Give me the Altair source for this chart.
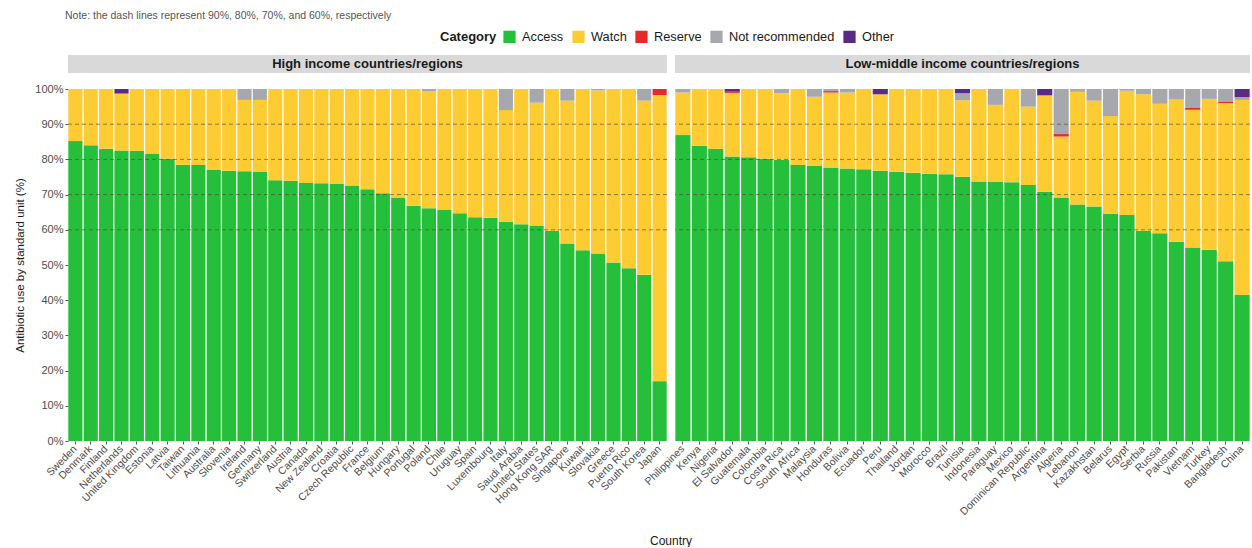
import altair as alt
import pandas as pd

# AWaRe categories, stacked bottom to top
CATEGORIES = ["Access", "Watch", "Reserve", "Not recommended", "Other"]
COLORS = ["#26bf3c", "#fdcc33", "#e62a2a", "#a7a8ad", "#5b2a86"]

NOTE = "Note: the dash lines represent 90%, 80%, 70%, and 60%, respectively"
REFERENCE_LINES = [60, 70, 80, 90]

# High income countries/regions (% of antibiotic use by standard unit)
HIGH_COUNTRIES = [
    "Sweden", "Denmark", "Finland", "Netherlands", "United Kingdom", "Estonia",
    "Latvia", "Taiwan", "Lithuania", "Australia", "Slovenia", "Ireland",
    "Germany", "Switzerland", "Austria", "Canada", "New Zealand", "Croatia",
    "Czech Republic", "France", "Belgium", "Hungary", "Portugal", "Poland",
    "Chile", "Uruguay", "Spain", "Luxembourg", "Italy", "Saudi Arabia",
    "United States", "Hong Kong SAR", "Singapore", "Kuwait", "Slovakia",
    "Greece", "Puerto Rico", "South Korea", "Japan",
]
HIGH_ACCESS = [
    85.2, 84.0, 83.0, 82.5, 82.4, 81.7, 80.2, 78.5, 78.4, 77.0,
    76.8, 76.6, 76.4, 74.1, 73.9, 73.3, 73.2, 73.0, 72.6, 71.5,
    70.4, 69.2, 66.8, 66.1, 65.6, 64.7, 63.6, 63.4, 62.3, 61.6,
    61.2, 59.7, 56.1, 54.2, 53.3, 50.7, 49.1, 47.2, 17.0,
]
HIGH_RESERVE = [
    0, 0, 0, 0, 0, 0, 0, 0, 0, 0,
    0, 0, 0, 0, 0, 0, 0, 0, 0, 0,
    0, 0, 0, 0, 0, 0, 0, 0, 0, 0,
    0, 0, 0, 0, 0, 0, 0, 0, 1.7,
]
HIGH_NOT_RECOMMENDED = [
    0, 0, 0, 0, 0, 0, 0, 0, 0, 0,
    0, 3.1, 3.1, 0, 0, 0, 0, 0, 0, 0,
    0, 0, 0, 0.6, 0, 0, 0, 0, 6.0, 0,
    3.9, 0, 3.3, 0, 0.4, 0, 0, 3.3, 0,
]
HIGH_OTHER = [
    0, 0, 0, 1.3, 0, 0, 0, 0, 0, 0,
    0, 0, 0, 0, 0, 0, 0, 0, 0, 0,
    0, 0, 0, 0, 0, 0, 0, 0, 0, 0,
    0, 0, 0, 0, 0, 0, 0, 0, 0,
]

# Low-middle income countries/regions
LOW_COUNTRIES = [
    "Philippines", "Kenya", "Nigeria", "El Salvador", "Guatemala", "Colombia",
    "Costa Rica", "South Africa", "Malaysia", "Honduras", "Bolivia", "Ecuador",
    "Peru", "Thailand", "Jordan", "Morocco", "Brazil", "Tunisia", "Indonesia",
    "Paraguay", "Mexico", "Dominican Republic", "Argentina", "Algeria",
    "Lebanon", "Kazakhstan", "Belarus", "Egypt", "Serbia", "Russia",
    "Pakistan", "Vietnam", "Turkey", "Bangladesh", "China",
]
LOW_ACCESS = [
    86.9, 83.9, 83.0, 80.8, 80.6, 80.2, 79.9, 78.4, 78.1, 77.7,
    77.4, 77.2, 76.8, 76.5, 76.2, 75.9, 75.8, 75.1, 73.7, 73.6,
    73.5, 72.7, 70.8, 69.2, 67.2, 66.6, 64.5, 64.2, 59.7, 59.0,
    56.6, 55.0, 54.3, 51.1, 41.5,
]
LOW_RESERVE = [
    0, 0, 0, 0.5, 0, 0, 0, 0, 0, 0.4,
    0, 0, 0, 0, 0, 0, 0, 0, 0, 0,
    0, 0, 0, 0.7, 0, 0, 0, 0, 0, 0,
    0, 0.5, 0, 0.3, 0,
]
LOW_NOT_RECOMMENDED = [
    1.0, 0, 0, 0, 0, 0, 1.2, 0, 2.2, 0.6,
    1.0, 0, 0, 0, 0, 0, 0, 2.0, 0, 4.5,
    0, 5.0, 0, 12.8, 0.8, 3.3, 7.7, 0.5, 1.5, 4.2,
    3.0, 5.4, 2.8, 3.7, 0.8,
]
LOW_OTHER = [
    0, 0, 0, 0.6, 0, 0, 0, 0, 0, 0,
    0, 0, 1.5, 0, 0, 0, 0, 1.2, 0, 0,
    0, 0, 1.8, 0, 0, 0, 0, 0, 0, 0,
    0, 0, 0, 0, 2.3,
]

PLOT_H = 352
HIGH_W = 599
LOW_W = 575


def long_table(countries, access, reserve, not_rec, other):
    rows = []
    for i, country in enumerate(countries):
        watch = 100 - access[i] - reserve[i] - not_rec[i] - other[i]
        values = [access[i], watch, reserve[i], not_rec[i], other[i]]
        for k, (cat, v) in enumerate(zip(CATEGORIES, values)):
            rows.append({"country": country, "category": cat, "k": k, "value": v})
    return pd.DataFrame(rows)


legend = alt.Legend(
    orient="none", legendX=372, legendY=-59, direction="horizontal",
    title="Category", titleOrient="left", titleFontSize=13, titleFontWeight="bold",
    titleColor="#1a1a1a", labelFontSize=12.8, labelColor="#1a1a1a",
    symbolType="square", symbolSize=150, symbolStrokeWidth=0, symbolOpacity=1,
    columnPadding=8, titlePadding=6, labelOffset=6,
)

y_axis = alt.Axis(
    title="Antibiotic use by standard unit (%)", titleFontSize=11.5,
    titleFontWeight="normal", titleColor="#1a1a1a", titlePadding=9,
    values=list(range(0, 101, 10)), labelExpr="datum.value + '%'",
    labelFontSize=11, labelColor="#4d4d4d", tickSize=3, tickColor="#555",
    domain=False, grid=False, labelPadding=2,
)


def panel(df, countries, strip_label, width, show_y, extras):
    x_enc = alt.X(
        "country:N", sort=countries, title=None,
        scale=alt.Scale(paddingInner=0.08, paddingOuter=0.02),
        axis=alt.Axis(labelAngle=-45, labelAlign="right", labelBaseline="middle",
                      labelFontSize=10.5, labelColor="#4d4d4d", tickSize=3,
                      tickColor="#555", domain=False, labelPadding=3,
                      labelOverlap=False, labelLimit=0),
    )
    yax = y_axis if show_y else None
    bars = alt.Chart(df).mark_bar().encode(
        x=x_enc,
        y=alt.Y("value:Q", stack="zero",
                scale=alt.Scale(domain=[0, 100], nice=False), axis=yax),
        color=alt.Color("category:N", sort=CATEGORIES,
                        scale=alt.Scale(domain=CATEGORIES, range=COLORS),
                        legend=legend),
        order=alt.Order("k:Q", sort="ascending"),
    )
    rules = alt.Chart(pd.DataFrame({"value": REFERENCE_LINES})).mark_rule(
        color="#4a4a30", strokeDash=[4, 3], strokeWidth=0.9, opacity=0.7
    ).encode(y=alt.Y("value:Q", axis=yax))
    strip_df = pd.DataFrame({"label": [strip_label]})
    strip = alt.Chart(strip_df).mark_rect(color="#d9d9d9").encode(
        x=alt.value(0), x2=alt.value(width), y=alt.value(-34), y2=alt.value(-16)
    )
    strip_text = alt.Chart(strip_df).mark_text(
        fontSize=13, fontWeight="bold", color="#1a1a1a"
    ).encode(x=alt.value(width / 2), y=alt.value(-25), text="label:N")
    layers = [bars, rules, strip, strip_text] + extras
    return alt.layer(*layers).properties(width=width, height=PLOT_H)


note = alt.Chart(pd.DataFrame({"t": [NOTE]})).mark_text(
    align="left", fontSize=10.5, color="#555555"
).encode(x=alt.value(-3), y=alt.value(-73), text="t:N")

x_title = alt.Chart(pd.DataFrame({"t": ["Country"]})).mark_text(
    fontSize=12, color="#1a1a1a"
).encode(x=alt.value(HIGH_W + 4), y=alt.value(452), text="t:N")

high = panel(
    long_table(HIGH_COUNTRIES, HIGH_ACCESS, HIGH_RESERVE, HIGH_NOT_RECOMMENDED, HIGH_OTHER),
    HIGH_COUNTRIES, "High income countries/regions", HIGH_W, True, [note, x_title],
)
low = panel(
    long_table(LOW_COUNTRIES, LOW_ACCESS, LOW_RESERVE, LOW_NOT_RECOMMENDED, LOW_OTHER),
    LOW_COUNTRIES, "Low-middle income countries/regions", LOW_W, False, [],
)

chart = (
    alt.hconcat(high, low, spacing=8, bounds="flush")
    .resolve_scale(color="shared")
    .properties(padding={"left": 14, "top": 11, "right": 0, "bottom": 0})
    .configure(font="Liberation Sans")
    .configure_view(stroke=None)
)

chart.save("out.html", embed_options={"renderer": "svg", "actions": False})
